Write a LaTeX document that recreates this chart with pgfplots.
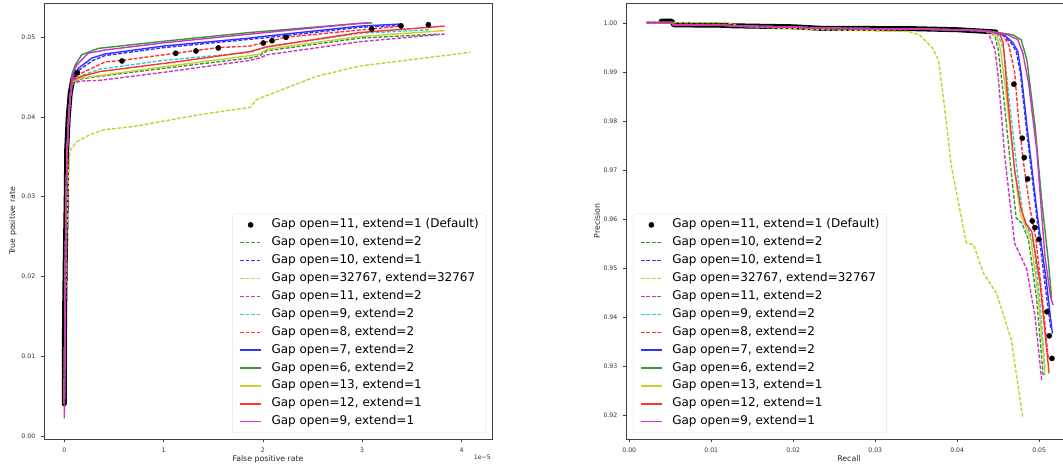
\documentclass[border=0pt]{standalone}
\usepackage{pgfplots}
\pgfplotsset{compat=1.18}
\usepackage{fontspec}
\setmainfont{DejaVu Sans}
\definecolor{cg}{rgb}{0.2,0.6,0.2}
\definecolor{cb}{rgb}{0.2,0.2,1}
\definecolor{cy}{rgb}{0.8,0.8,0.2}
\definecolor{cm}{rgb}{0.8,0.2,0.8}
\definecolor{cc}{rgb}{0.2,0.8,0.8}
\definecolor{cr}{rgb}{1,0.2,0.2}
\pgfplotsset{
  mpl/.style={
    scale only axis, anchor=south west, width=448pt, height=436pt,
    axis line style={black!75, line width=0.7pt},
    tick align=outside, major tick length=3.5pt, tick pos=left,
    tick style={black!75, line width=0.6pt},
    scaled ticks=false,
    /pgf/number format/assume math mode=true,
    ticklabel style={font=\fontsize{6.2}{7}\selectfont, text=black!80},
    xticklabel style={inner sep=0pt, anchor=north, yshift=-5pt},
    yticklabel style={inner sep=0pt, anchor=east, xshift=-5pt},
    label style={font=\fontsize{7.8}{9}\selectfont, text=black!85},
    legend cell align=left,
    legend style={font=\fontsize{12}{14}\selectfont, draw=black!12,
      rounded corners=2.5pt, fill=white,
      inner xsep=7pt, inner ysep=5pt, row sep=5.9pt, column sep=9.7pt,
      nodes={inner sep=0pt, text height=9pt, text depth=3pt}},
    legend image code/.code={\draw[mark repeat=2,mark phase=2,#1] plot coordinates {(0pt,0pt)(10.5pt,0pt)(21pt,0pt)};},
  },
  ln/.style={line width=1.4pt, no marks, solid},
  ds/.style={line width=1.4pt, no marks, dash pattern=on 3.8pt off 1.7pt},
  dots/.style={only marks, mark=*, mark size=2.6pt, black, mark options={fill=black, solid}},
  band/.style={black, line width=5pt, line join=round, line cap=round, forget plot, no marks},
}
\begin{document}
\begin{tikzpicture}
\useasboundingbox (0pt,0pt) rectangle (1063pt,468pt);
% ---------------- left: ROC ----------------
\begin{axis}[mpl, at={(44pt,29pt)},
  xmin=-0.204, xmax=4.307, ymin=-0.0004, ymax=0.0543,
  xtick={0,1,2,3,4},
  ytick={0,0.01,0.02,0.03,0.04,0.05},
  yticklabel style={/pgf/number format/.cd, fixed, fixed zerofill, precision=2},
  xlabel={False positive rate}, ylabel={True positive rate},
  xlabel style={at={(axis description cs:0.5,-0.0459)}, anchor=center},
  ylabel style={at={(axis description cs:-0.0692,0.5)}, anchor=center, rotate=0},
  legend style={at={(axis description cs:1,0)}, anchor=south east, xshift=-6pt, yshift=6pt},
]
\addplot[band] coordinates {(0.0,0.0040)(0.0,0.010)(0.005,0.017)(0.01,0.022)(0.02,0.030)(0.025,0.036)(0.04,0.040)(0.06,0.043)(0.09,0.0450)(0.12,0.0455)};
\addplot[dots] coordinates {(0.131,0.04556)(0.581,0.04703)(1.122,0.04799)(1.326,0.04828)(1.551,0.04866)(2.004,0.04928)(2.092,0.04957)(2.233,0.0500)(3.096,0.05104)(3.391,0.05142)(3.666,0.05158)};
\addlegendentry{Gap open=11, extend=1 (Default)}
\addplot[ds, color=cg] coordinates {(0.0,0.004)(0.005,0.012)(0.01,0.02)(0.02,0.03)(0.03,0.036)(0.045,0.040)(0.06,0.0425)(0.08,0.0443)(0.175,0.0448)(0.36,0.0451)(1.0,0.0461)(1.87,0.0474)(1.97,0.0477)(2.04,0.0483)(2.98,0.0499)(3.78,0.0504)};
\addlegendentry{Gap open=10, extend=2}
\addplot[ds, color=cb] coordinates {(0.0,0.004)(0.005,0.012)(0.01,0.02)(0.02,0.03)(0.03,0.036)(0.045,0.040)(0.06,0.0425)(0.08,0.0447)(0.15,0.0459)(0.29,0.0471)(0.41,0.0477)(1.0,0.0487)(1.87,0.04975)(2.0,0.0499)(2.98,0.05125)(3.40,0.0515)};
\addlegendentry{Gap open=10, extend=1}
\addplot[ds, color=cy] coordinates {(0.0,0.004)(0.01,0.015)(0.03,0.028)(0.05,0.0345)(0.057,0.0357)(0.08,0.0362)(0.125,0.0369)(0.26,0.0378)(0.4,0.0384)(0.695,0.0388)(1.367,0.0403)(1.87,0.0412)(1.937,0.0422)(2.54,0.0451)(2.977,0.0464)(4.086,0.0481)};
\addlegendentry{Gap open=32767, extend=32767}
\addplot[ds, color=cm] coordinates {(0.0,0.004)(0.005,0.012)(0.01,0.02)(0.02,0.03)(0.03,0.036)(0.045,0.040)(0.06,0.0425)(0.08,0.0441)(0.158,0.0445)(0.36,0.0446)(1.0,0.0456)(1.87,0.0471)(1.97,0.0474)(2.04,0.0478)(2.98,0.04945)(3.83,0.0504)};
\addlegendentry{Gap open=11, extend=2}
\addplot[ds, color=cc] coordinates {(0.0,0.004)(0.005,0.012)(0.01,0.02)(0.02,0.03)(0.03,0.036)(0.045,0.040)(0.06,0.0425)(0.08,0.0446)(0.175,0.0452)(0.36,0.0460)(1.0,0.0471)(1.87,0.0481)(2.04,0.0488)(2.98,0.0505)(3.68,0.05095)};
\addlegendentry{Gap open=9, extend=2}
\addplot[ds, color=cr] coordinates {(0.0,0.004)(0.005,0.012)(0.01,0.02)(0.02,0.03)(0.03,0.036)(0.045,0.040)(0.06,0.0425)(0.08,0.0446)(0.14,0.0453)(0.41,0.0469)(0.58,0.0471)(1.12,0.0480)(1.55,0.0487)(1.87,0.0489)(2.0,0.0493)(2.23,0.0500)(2.98,0.05092)(3.40,0.0514)};
\addlegendentry{Gap open=8, extend=2}
\addplot[ln, color=cb] coordinates {(0.0,0.004)(0.005,0.012)(0.01,0.02)(0.02,0.03)(0.03,0.036)(0.045,0.040)(0.06,0.0425)(0.08,0.0448)(0.14,0.0461)(0.28,0.0474)(0.41,0.0479)(1.0,0.0489)(1.87,0.0499)(2.0,0.0501)(2.98,0.0514)(3.40,0.05167)};
\addlegendentry{Gap open=7, extend=2}
\addplot[ln, color=cg] coordinates {(0.0,0.004)(0.005,0.012)(0.01,0.02)(0.02,0.03)(0.03,0.036)(0.045,0.040)(0.06,0.0425)(0.08,0.0455)(0.11,0.0465)(0.175,0.0478)(0.34,0.0486)(1.0,0.0495)(1.87,0.0506)(2.98,0.05175)(3.10,0.0518)};
\addlegendentry{Gap open=6, extend=2}
\addplot[ln, color=cy] coordinates {(0.0,0.004)(0.005,0.012)(0.01,0.02)(0.02,0.03)(0.03,0.036)(0.045,0.040)(0.06,0.0425)(0.08,0.0444)(0.175,0.0449)(0.36,0.0452)(1.0,0.0463)(1.87,0.0477)(1.97,0.0479)(2.04,0.0485)(2.98,0.0501)(3.83,0.05083)};
\addlegendentry{Gap open=13, extend=1}
\addplot[ln, color=cr] coordinates {(0.0,0.004)(0.005,0.012)(0.01,0.02)(0.02,0.03)(0.03,0.036)(0.045,0.040)(0.06,0.0425)(0.08,0.0446)(0.175,0.0451)(0.36,0.0457)(1.18,0.0470)(1.87,0.0482)(2.04,0.0488)(2.98,0.0506)(3.83,0.0514)};
\addlegendentry{Gap open=12, extend=1}
\addplot[ln, color=cm] coordinates {(0.0,0.0022)(0.005,0.012)(0.01,0.02)(0.02,0.03)(0.03,0.036)(0.045,0.040)(0.06,0.0425)(0.08,0.0452)(0.125,0.0465)(0.24,0.0480)(0.41,0.0484)(1.0,0.0493)(1.87,0.0504)(2.98,0.05175)(3.08,0.0518)};
\addlegendentry{Gap open=9, extend=1}
\end{axis}
\node[anchor=east, inner sep=0pt, font=\fontsize{6.2}{7}\selectfont, text=black!80] at (491pt,10.5pt) {1e−5};
% ---------------- right: PR ----------------
\begin{axis}[mpl, at={(626pt,29pt)}, width=446pt,
  xmin=-0.0004, xmax=0.054, ymin=0.9152, ymax=1.0041,
  xtick={0,0.01,0.02,0.03,0.04,0.05},
  ytick={0.92,0.93,0.94,0.95,0.96,0.97,0.98,0.99,1.00},
  xticklabel style={/pgf/number format/.cd, fixed, fixed zerofill, precision=2},
  yticklabel style={/pgf/number format/.cd, fixed, fixed zerofill, precision=2},
  xlabel={Recall}, ylabel={Precision},
  xlabel style={at={(axis description cs:0.5,-0.0459)}, anchor=center},
  ylabel style={at={(axis description cs:-0.065,0.5)}, anchor=center, rotate=0},
  legend style={at={(axis description cs:0,0)}, anchor=south west, xshift=7pt, yshift=6pt},
]
\addplot[band] coordinates {(0.0039,1.0004)(0.0052,1.0004)(0.0054,0.99965)(0.0120,0.99955)(0.0126,0.99945)(0.0200,0.99925)(0.0232,0.99895)(0.0300,0.99890)(0.0350,0.99885)(0.0400,0.99865)(0.0447,0.9982)};
\addplot[dots] coordinates {(0.04691,0.98755)(0.04793,0.97653)(0.04817,0.97257)(0.04859,0.96822)(0.04915,0.95965)(0.04948,0.95829)(0.04996,0.95592)(0.05094,0.94114)(0.05122,0.93624)(0.05155,0.93163)};
\addlegendentry{Gap open=11, extend=1 (Default)}
\addplot[ds, color=cg] coordinates {(0.0021,1.0001)(0.0052,1.0001)(0.0054,0.99960)(0.0120,0.99955)(0.0126,0.99940)(0.0200,0.99920)(0.0232,0.99895)(0.0300,0.99885)(0.0350,0.99880)(0.0400,0.99862)(0.0430,0.99845)(0.0440,0.9982)(0.0446,0.9973)(0.0450,0.9946)(0.0457,0.9844)(0.0466,0.9694)(0.0472,0.9602)(0.0479,0.9592)(0.0487,0.9558)(0.0497,0.9435)(0.0505,0.9279)};
\addlegendentry{Gap open=10, extend=2}
\addplot[ds, color=cb] coordinates {(0.0021,1.0001)(0.0052,1.0001)(0.0054,0.99960)(0.0120,0.99955)(0.0126,0.99940)(0.0200,0.99920)(0.0232,0.99895)(0.0300,0.99885)(0.0350,0.99880)(0.0400,0.99862)(0.0430,0.99845)(0.0440,0.9983)(0.0456,0.9975)(0.0466,0.9959)(0.0472,0.9942)(0.0477,0.9898)(0.0485,0.9776)(0.0497,0.9605)(0.0507,0.9469)(0.0514,0.9378)};
\addlegendentry{Gap open=10, extend=1}
\addplot[ds, color=cy] coordinates {(0.0040,1.0001)(0.0120,1.0001)(0.0135,0.9993)(0.0232,0.99865)(0.0340,0.99830)(0.0354,0.99761)(0.0370,0.9949)(0.0377,0.9925)(0.0383,0.9850)(0.0393,0.9707)(0.0411,0.9552)(0.0420,0.9548)(0.0432,0.9490)(0.0448,0.9449)(0.0466,0.9354)(0.0480,0.9194)};
\addlegendentry{Gap open=32767, extend=32767}
\addplot[ds, color=cm] coordinates {(0.0021,1.0001)(0.0052,1.0001)(0.0054,0.99960)(0.0120,0.99955)(0.0126,0.99940)(0.0200,0.99920)(0.0232,0.99895)(0.0300,0.99885)(0.0350,0.99880)(0.0400,0.99862)(0.0430,0.99845)(0.0438,0.9980)(0.0446,0.9946)(0.0450,0.9891)(0.0458,0.9728)(0.0470,0.9551)(0.0474,0.9537)(0.0485,0.9497)(0.0495,0.9401)(0.0503,0.9272)};
\addlegendentry{Gap open=11, extend=2}
\addplot[ds, color=cc] coordinates {(0.0021,1.0001)(0.0052,1.0001)(0.0054,0.99960)(0.0120,0.99955)(0.0126,0.99940)(0.0200,0.99920)(0.0232,0.99895)(0.0300,0.99885)(0.0350,0.99880)(0.0400,0.99862)(0.0430,0.99845)(0.0440,0.9983)(0.0450,0.9975)(0.0457,0.9945)(0.0463,0.9850)(0.0473,0.9700)(0.0480,0.9610)(0.0487,0.9580)(0.0494,0.9540)(0.0501,0.9430)(0.0507,0.9293)};
\addlegendentry{Gap open=9, extend=2}
\addplot[ds, color=cr] coordinates {(0.0021,1.0001)(0.0052,1.0001)(0.0054,0.99960)(0.0120,0.99955)(0.0126,0.99940)(0.0200,0.99920)(0.0232,0.99895)(0.0300,0.99885)(0.0350,0.99880)(0.0400,0.99862)(0.0430,0.99845)(0.0440,0.9983)(0.0455,0.9978)(0.0463,0.9955)(0.0470,0.9900)(0.0475,0.9800)(0.0482,0.9700)(0.0489,0.9620)(0.0496,0.9560)(0.0503,0.9450)(0.0511,0.9317)};
\addlegendentry{Gap open=8, extend=2}
\addplot[ln, color=cb] coordinates {(0.0021,1.0001)(0.0052,1.0001)(0.0054,0.99960)(0.0120,0.99955)(0.0126,0.99940)(0.0200,0.99920)(0.0232,0.99895)(0.0300,0.99885)(0.0350,0.99880)(0.0400,0.99862)(0.0430,0.99845)(0.0440,0.9983)(0.0458,0.9975)(0.0468,0.9960)(0.0474,0.9942)(0.0478,0.9898)(0.0486,0.9776)(0.0498,0.9605)(0.0509,0.9469)(0.0516,0.9367)};
\addlegendentry{Gap open=7, extend=2}
\addplot[ln, color=cg] coordinates {(0.0021,1.0001)(0.0052,1.0001)(0.0054,0.99960)(0.0120,0.99955)(0.0126,0.99940)(0.0200,0.99920)(0.0232,0.99895)(0.0300,0.99885)(0.0350,0.99880)(0.0400,0.99862)(0.0430,0.99845)(0.0440,0.99835)(0.0468,0.99761)(0.0478,0.99659)(0.0485,0.99251)(0.0495,0.9789)(0.0503,0.9639)(0.0511,0.9517)(0.0515,0.9440)};
\addlegendentry{Gap open=6, extend=2}
\addplot[ln, color=cy] coordinates {(0.0021,1.0001)(0.0052,1.0001)(0.0054,0.99960)(0.0120,0.99955)(0.0126,0.99940)(0.0200,0.99920)(0.0232,0.99895)(0.0300,0.99885)(0.0350,0.99880)(0.0400,0.99862)(0.0430,0.99845)(0.0440,0.9982)(0.0448,0.9975)(0.0453,0.9945)(0.0460,0.9850)(0.0470,0.9700)(0.0477,0.9610)(0.0482,0.9592)(0.0490,0.9558)(0.0499,0.9440)(0.0507,0.9283)};
\addlegendentry{Gap open=13, extend=1}
\addplot[ln, color=cr] coordinates {(0.0021,1.0001)(0.0052,1.0001)(0.0054,0.99960)(0.0120,0.99955)(0.0126,0.99940)(0.0200,0.99920)(0.0232,0.99895)(0.0300,0.99885)(0.0350,0.99880)(0.0400,0.99862)(0.0430,0.99845)(0.0440,0.9983)(0.0452,0.9978)(0.0456,0.9960)(0.0462,0.9840)(0.0470,0.9700)(0.0478,0.9620)(0.0484,0.9590)(0.0491,0.9575)(0.0501,0.9470)(0.0512,0.9286)};
\addlegendentry{Gap open=12, extend=1}
\addplot[ln, color=cm] coordinates {(0.0021,1.0001)(0.0052,1.0001)(0.0054,0.99960)(0.0120,0.99955)(0.0126,0.99940)(0.0200,0.99920)(0.0232,0.99895)(0.0300,0.99885)(0.0350,0.99880)(0.0400,0.99862)(0.0430,0.99845)(0.0440,0.9983)(0.0462,0.9976)(0.0474,0.9966)(0.0480,0.9939)(0.0487,0.9878)(0.0497,0.9741)(0.0507,0.9524)(0.0514,0.9440)(0.0517,0.9425)};
\addlegendentry{Gap open=9, extend=1}
\end{axis}
\end{tikzpicture}
\end{document}
